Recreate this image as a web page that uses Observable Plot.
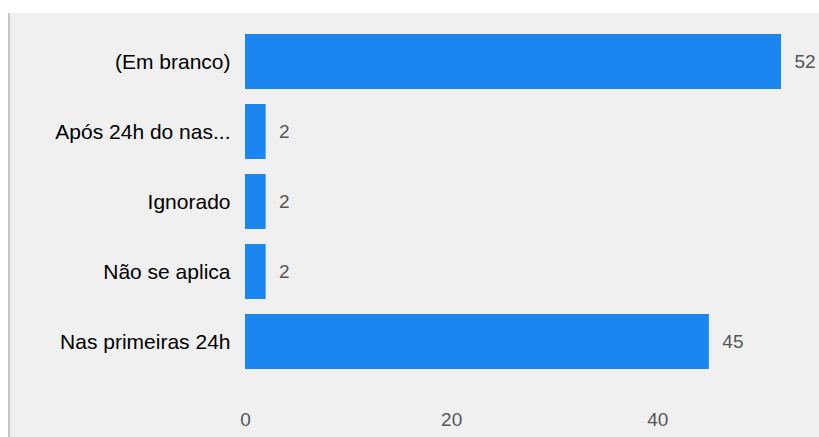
<!DOCTYPE html>
<html>
<head>
<meta charset="utf-8">
<script src="https://cdn.jsdelivr.net/npm/d3@7"></script>
<script src="https://cdn.jsdelivr.net/npm/@observablehq/plot@0.6"></script>
<style>
  html, body { margin: 0; padding: 0; background: #fff; }
  #chart {
    width: 819px;
    height: 437px;
    background:
      linear-gradient(to bottom, #ffffff 0 13px, transparent 13px),
      linear-gradient(to right, #ffffff 0 8px, #c4c4c4 8px 10px, #f0f0f0 10px);
  }
  #chart svg { display: block; }
</style>
</head>
<body>
<div id="chart"></div>
<script>
const categories = ["(Em branco)", "Após 24h do nas...", "Ignorado", "Não se aplica", "Nas primeiras 24h"];
const values = [52, 2, 2, 2, 45];
const xTicks = [0, 20, 40];

const data = categories.map((c, i) => ({category: c, value: values[i]}));
const font = "'Liberation Sans', Arial, sans-serif";

const chart = Plot.plot({
  width: 819,
  height: 437,
  marginLeft: 245,
  marginRight: 38,
  marginTop: 16,
  marginBottom: 51,
  style: "background: transparent; overflow: visible;",
  x: {domain: [0, 52], ticks: xTicks},
  y: {domain: categories, padding: 0.22},
  marks: [
    Plot.barX(data, {x: "value", y: "category", fill: "#1b86f0"}),
    Plot.text(data, {x: "value", y: "category", text: d => String(d.value), textAnchor: "start", dx: 13,
      fill: "#555", fontSize: 19, fontFamily: font}),
    Plot.axisX({ticks: xTicks, tickSize: 0, tickPadding: 26, fontSize: 19, fill: "#555", label: null,
      fontFamily: font}),
    Plot.axisY({tickSize: 0, tickPadding: 15, fontSize: 21, fill: "#000", label: null,
      fontFamily: font})
  ]
});
document.getElementById("chart").appendChild(chart);
</script>
</body>
</html>
